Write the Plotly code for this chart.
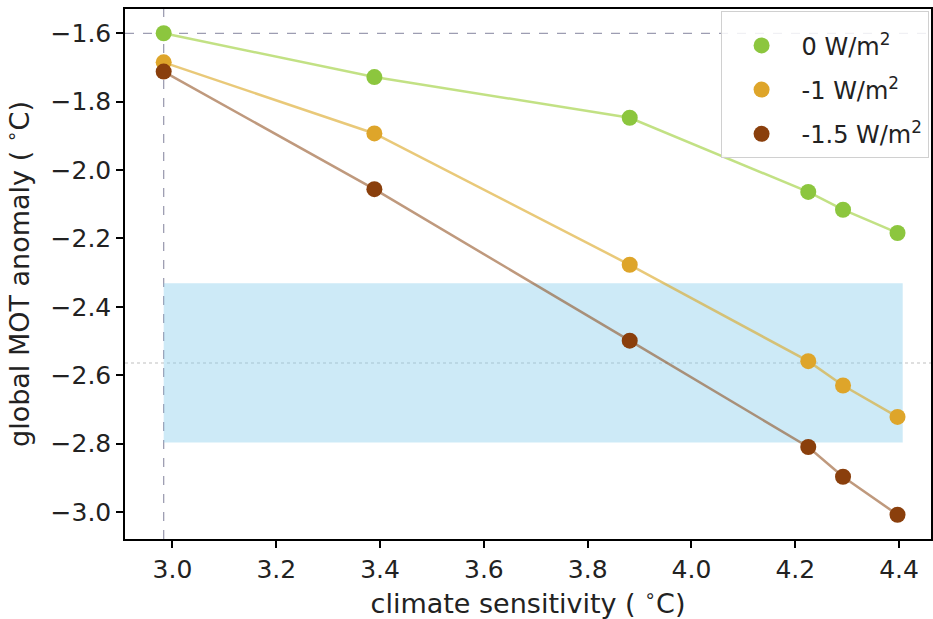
import plotly.graph_objects as go

# Climate sensitivity of each model run (deg C)
sensitivity = [2.983, 3.389, 3.881, 4.225, 4.292, 4.397]

# Global MOT anomaly for each forcing scenario (deg C)
mot_0 = [-1.600, -1.728, -1.847, -2.064, -2.116, -2.184]
mot_m1 = [-1.685, -1.893, -2.277, -2.559, -2.630, -2.722]
mot_m15 = [-1.712, -2.056, -2.499, -2.810, -2.897, -3.008]

series_names = ["0 W/m<sup>2</sup>", "-1 W/m<sup>2</sup>", "-1.5 W/m<sup>2</sup>"]
series_values = [mot_0, mot_m1, mot_m15]
marker_colors = ["#8cc63e", "#dea52a", "#8a3f0c"]
line_colors = ["rgba(154,205,50,0.6)", "rgba(218,165,32,0.6)", "rgba(139,69,19,0.55)"]

# Proxy-based estimate of the global MOT anomaly
proxy_low = -2.797
proxy_high = -2.331
proxy_mid = -2.564

# Reference model: sensitivity and anomaly
ref_sensitivity = 2.983
ref_anomaly = -1.600

x_ticks = [3.0, 3.2, 3.4, 3.6, 3.8, 4.0, 4.2, 4.4]
y_ticks = [-1.6, -1.8, -2.0, -2.2, -2.4, -2.6, -2.8, -3.0]

fig = go.Figure()

# Connecting lines (no legend entries)
for vals, lc in zip(series_values, line_colors):
    fig.add_trace(go.Scatter(x=sensitivity, y=vals, mode="lines",
                             line=dict(color=lc, width=2.5),
                             showlegend=False, hoverinfo="skip"))

# Markers carry the legend
for i, (name, vals, mc) in enumerate(zip(series_names, series_values, marker_colors)):
    fig.add_trace(go.Scatter(x=sensitivity, y=vals, mode="markers", name=name,
                             legendgroup=f"g{i}",
                             marker=dict(color=mc, size=16, line=dict(width=0))))

shapes = [
    # faint centre line of the proxy range
    dict(type="line", xref="paper", yref="y", x0=0, x1=1, y0=proxy_mid, y1=proxy_mid,
         line=dict(color="rgba(170,170,170,0.5)", width=1.5, dash="dot"), layer="below"),
    # proxy range band
    dict(type="rect", xref="x", yref="y", x0=sensitivity[0], x1=sensitivity[-1] + 0.01,
         y0=proxy_low, y1=proxy_high, fillcolor="rgba(135,206,235,0.42)",
         line=dict(width=0), layer="below"),
    # reference model cross-hairs
    dict(type="line", xref="x", yref="paper", x0=ref_sensitivity, x1=ref_sensitivity, y0=0, y1=1,
         line=dict(color="rgba(140,140,165,0.85)", width=1.3, dash="dash"), layer="below"),
    dict(type="line", xref="paper", yref="y", x0=0, x1=1, y0=ref_anomaly, y1=ref_anomaly,
         line=dict(color="rgba(140,140,165,0.85)", width=1.3, dash="dash"), layer="below"),
]

axis_common = dict(showgrid=False, zeroline=False, showline=True, linecolor="black",
                   linewidth=1.5, mirror=True, ticks="outside", ticklen=7,
                   tickcolor="black", tickwidth=1.5)

fig.update_layout(
    width=933, height=619,
    margin=dict(l=125, r=0, t=9, b=80),
    paper_bgcolor="white", plot_bgcolor="white",
    font=dict(family="DejaVu Sans", size=24, color="#222"),
    shapes=shapes,
    xaxis=dict(range=[2.9085, 4.4615], tickvals=x_ticks,
               ticktext=[f"{v:.1f}" for v in x_ticks],
               tickfont=dict(size=25),
               title=dict(text="climate sensitivity ( <sup>∘</sup>C)", font=dict(size=27), standoff=3),
               **axis_common),
    yaxis=dict(range=[-3.079, -1.529], tickvals=y_ticks,
               ticktext=[f"\u2212{abs(v):.1f}" for v in y_ticks],
               tickfont=dict(size=25),
               title=dict(text="global MOT anomaly ( <sup>∘</sup>C)", font=dict(size=27), standoff=14),
               **axis_common),
    legend=dict(x=0.997, y=0.997, xanchor="right", yanchor="top",
                bgcolor="rgba(255,255,255,0.85)", bordercolor="#d0d0d0", borderwidth=1,
                font=dict(size=24), tracegroupgap=10, traceorder="grouped",
                itemwidth=70,
                title=dict(text=" ", font=dict(size=9))),
)

fig.write_html("out.html")
